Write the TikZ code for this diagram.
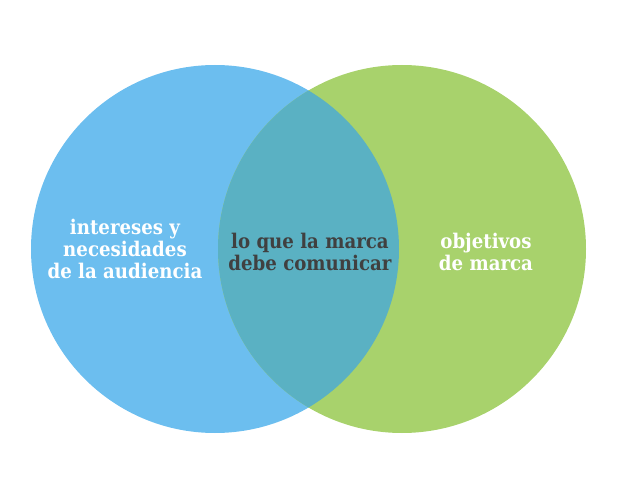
\documentclass[tikz,border=0pt]{standalone}
\usepackage{fontspec}
\setmainfont{DejaVu Serif Condensed}

\definecolor{audiencia}{HTML}{6CBEEF}
\definecolor{objetivos}{HTML}{A8D26C}
\definecolor{comunicar}{HTML}{5AB1C3}
\definecolor{textogris}{HTML}{404040}

\tikzset{
  rotulo/.style={align=center, inner sep=0pt, font=\bfseries\fontsize{20.2}{22}\selectfont},
}

\begin{document}
\begin{tikzpicture}[x=1pt,y=-1pt]
\useasboundingbox (0,0) rectangle (622,500);

\fill[audiencia] (215,249) circle (184pt);
\fill[objetivos] (402,249) circle (184pt);
\begin{scope}
\clip (215,249) circle (184pt);
\fill[comunicar] (402,249) circle (184pt);
\end{scope}

\node[rotulo, text=white] (aud) at (125,249) {intereses y\\necesidades\\de la audiencia};
\node[rotulo, text=textogris] (com) at (310,252) {lo que la marca\\debe comunicar};
\node[rotulo, text=white] (obj) at (486,252) {objetivos\\de marca};
\end{tikzpicture}
\end{document}
